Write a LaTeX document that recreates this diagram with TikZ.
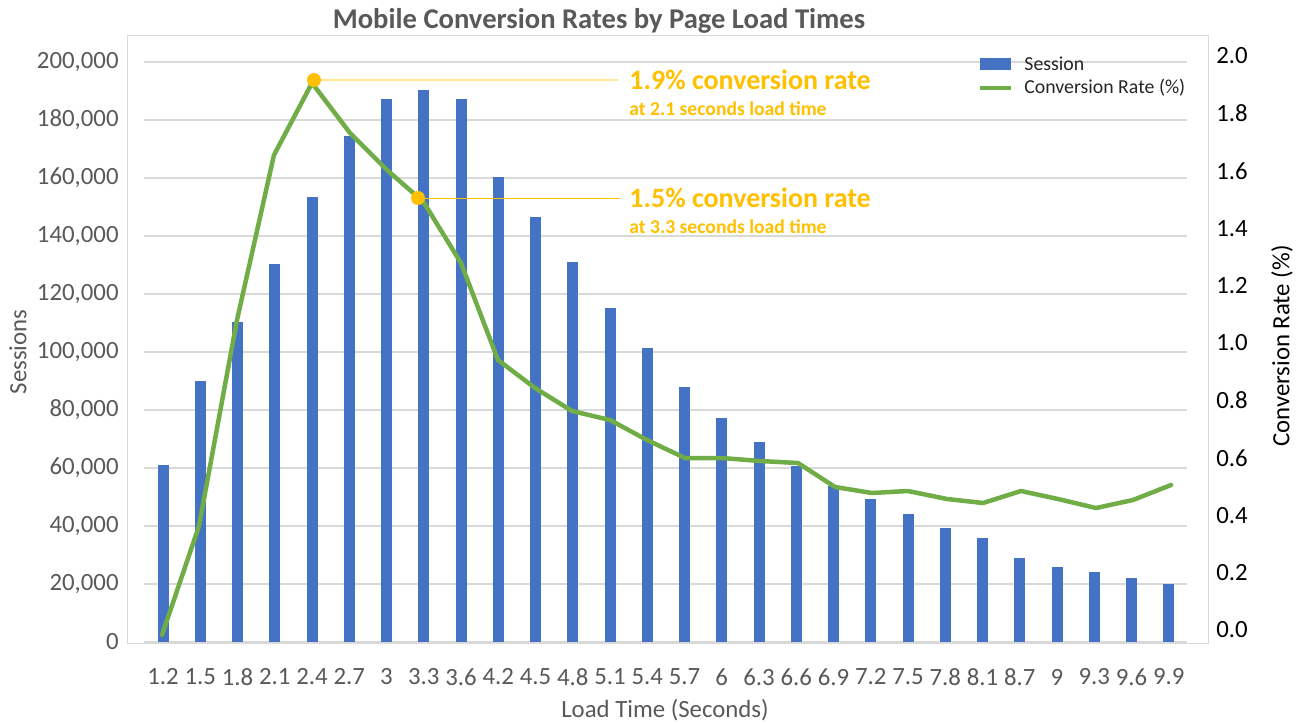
\documentclass[tikz,border=0pt]{standalone}
\usepackage{fontspec}
\setmainfont{Carlito}
\definecolor{barblue}{HTML}{4472C4}
\definecolor{linegreen}{HTML}{70AD47}
\definecolor{gold}{HTML}{FFC000}
\definecolor{palegold}{HTML}{FFE699}
\definecolor{gridgray}{HTML}{D9D9D9}
\definecolor{axtext}{HTML}{595959}
\definecolor{legtext}{HTML}{262626}
\begin{document}
\begin{tikzpicture}[x=0.5pt,y=-0.5pt,
  ticklbl/.style={font=\fontsize{12.4}{14}\selectfont, text=axtext, inner sep=0pt},
  rticklbl/.style={font=\fontsize{12.4}{14}\selectfont, text=black, inner sep=0pt, anchor=west},
  axtitle/.style={font=\fontsize{12.4}{14}\selectfont, inner sep=0pt},
  legtxt/.style={font=\fontsize{9.9}{12}\selectfont, text=legtext, inner sep=0pt, anchor=west},
  bignote/.style={font=\bfseries\fontsize{14}{17}\selectfont, text=gold, inner sep=0pt, anchor=west},
  smallnote/.style={font=\bfseries\fontsize{9.8}{12}\selectfont, text=gold, inner sep=0pt, anchor=west},
  dot/.style={circle, fill=gold, minimum size=7pt, inner sep=0pt},
  grid line/.style={gridgray, line width=0.75pt}]
\useasboundingbox (0,0) rectangle (1301,723);
\fill[white] (0,0) rectangle (1301,723);

% title
\node[font=\bfseries\fontsize{14.3}{17}\selectfont, text=axtext, inner sep=0pt] (title) at (599,21) {Mobile Conversion Rates by Page Load Times};

% plot frame and horizontal gridlines
\draw[gridgray, line width=0.5pt] (127,35) rectangle (1208,643);
\foreach \k in {0,...,10} {
  \draw[grid line] (144,{642-58*\k}) -- (1187,{642-58*\k});
}

% left axis: sessions
\foreach \k/\t in {0/0, 1/{20,000}, 2/{40,000}, 3/{60,000}, 4/{80,000}, 5/{100,000},
                   6/{120,000}, 7/{140,000}, 8/{160,000}, 9/{180,000}, 10/{200,000}} {
  \node[ticklbl, anchor=east] (yl\k) at (119,{642-58*\k}) {\t};
}
\node[axtitle, text=axtext, rotate=90] (ytitle) at (18,352) {Sessions};

% right axis: conversion rate
\foreach \k/\t in {0/0.0, 1/0.2, 2/0.4, 3/0.6, 4/0.8, 5/1.0, 6/1.2, 7/1.4, 8/1.6, 9/1.8, 10/2.0} {
  \node[rticklbl] (rl\k) at (1216,{630-57.4*\k}) {\t};
}
\node[axtitle, text=black, rotate=90] (rtitle) at (1282,346) {Conversion Rate (\%)};

% session bars
\foreach \t [count=\i from 0] in {465,381,322,264,197,136,99,90,99,177,217,262,308,348,
                                  387,418,442,466,486,499,514,528,538,558,567,572,578,584} {
  \fill[barblue] ({163+37.25*\i-5.5},642) rectangle ({163+37.25*\i+5.5},\t);
}

% category labels
\foreach \l [count=\i from 0] in {1.2,1.5,1.8,2.1,2.4,2.7,3,3.3,3.6,4.2,4.5,4.8,5.1,5.4,
                                  5.7,6,6.3,6.6,6.9,7.2,7.5,7.8,8.1,8.7,9,9.3,9.6,9.9} {
  \node[ticklbl] (xl\i) at ({163+37.25*\i},677) {\l};
}
\node[axtitle, text=axtext] (xtitle) at (665,710) {Load Time (Seconds)};

% conversion rate line
\draw[linegreen, line width=2.25pt, line join=round, line cap=round] plot coordinates {
  (162,635) (199,526) (237,320) (274,155) (312,83) (350,133) (387,170) (423.5,202)
  (461,263) (498,360) (535,388) (572,411) (610,420) (647,440) (685,458) (722,458)
  (760,461) (798,463) (835,487) (872,493) (908,491) (947,499) (983,503) (1021,491)
  (1058,499) (1096,508) (1133,500) (1171,485)};

% highlighted points with leader lines
\node[dot] (m1) at (314,80) {};
\node[dot] (m2) at (418,198) {};
\coordinate (e1) at (618,80);
\coordinate (e2) at (620,198);
\draw[palegold, line width=0.75pt] (m1) -- (e1);
\draw[gold, line width=0.5pt] (m2) -- (e2);

\node[bignote] (n1) at (629,80) {1.9\% conversion rate};
\node[smallnote] (n1s) at (629,109) {at 2.1 seconds load time};
\node[bignote] (n2) at (629,198) {1.5\% conversion rate};
\node[smallnote] (n2s) at (629,227) {at 3.3 seconds load time};

% legend
\fill[barblue] (980,58) rectangle (1011,70);
\node[legtxt] (lg1) at (1024,64) {Session};
\draw[linegreen, line width=2pt] (980,88) -- (1011,88);
\node[legtxt] (lg2) at (1024,88) {Conversion Rate (\%)};
\end{tikzpicture}
\end{document}
